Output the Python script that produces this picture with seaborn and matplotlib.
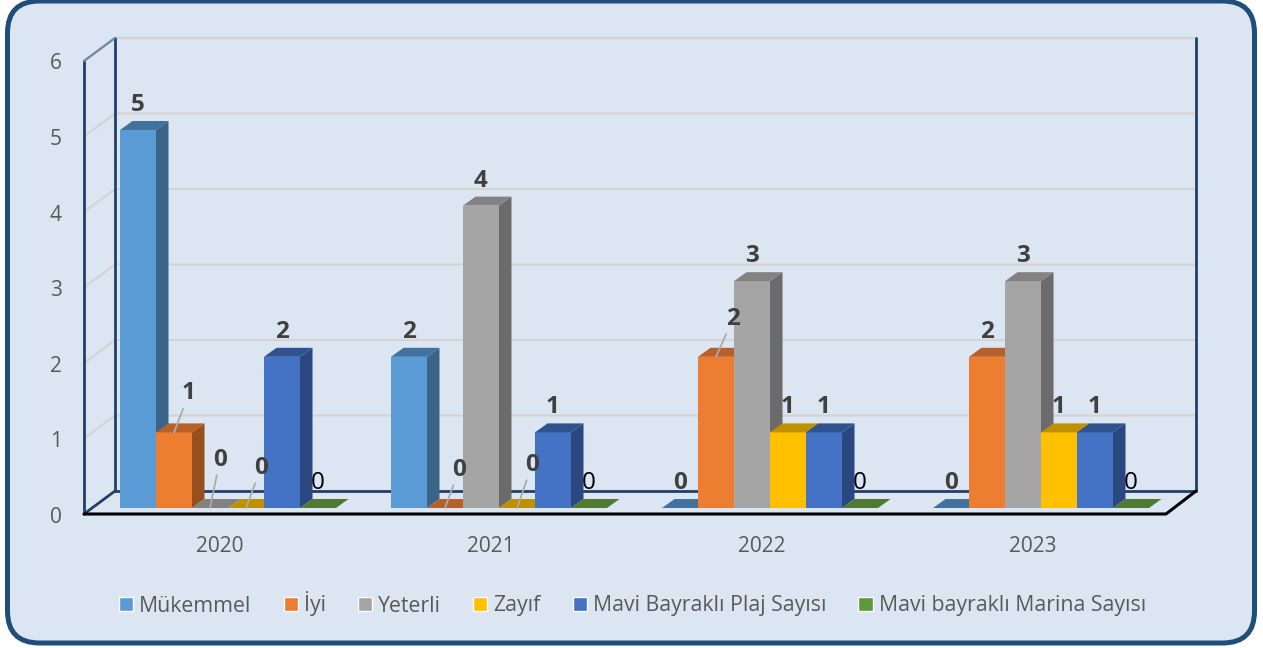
import matplotlib
matplotlib.use("Agg")
import matplotlib.pyplot as plt
import pandas as pd
import seaborn as sns
from matplotlib.patches import FancyBboxPatch, Polygon
from matplotlib.lines import Line2D
from matplotlib.transforms import Affine2D, ScaledTranslation

# ---- data ----
years = ["2020", "2021", "2022", "2023"]
series = ["Mükemmel", "İyi", "Yeterli", "Zayıf", "Mavi Bayraklı Plaj Sayısı", "Mavi bayraklı Marina Sayısı"]
mukemmel = [5, 2, 0, 0]
iyi = [1, 0, 2, 2]
yeterli = [0, 4, 3, 3]
zayif = [0, 0, 1, 1]
plaj = [2, 1, 1, 1]
marina = [0, 0, 0, 0]
values = [mukemmel, iyi, yeterli, zayif, plaj, marina]
y_ticks = [0, 1, 2, 3, 4, 5, 6]

# ---- styles ----
front_cols = ["#5B9BD5", "#ED7D31", "#A5A5A5", "#FFC000", "#4472C4", "#5B9A3A"]
side_cols = ["#3A6488", "#95501E", "#6B6B6B", "#A67C00", "#2A4780", "#3E6B28"]
top_cols = ["#41719C", "#B8602A", "#828282", "#BF9000", "#30538F", "#4E7A31"]
BG, BORDER, NAVY, GRID, TXT = "#DCE6F2", "#1F4E79", "#223F68", "#D4D4D4", "#595959"
W, H = 1263, 648
FS = 15

# pixel geometry of the picture
X0, CAT = 92.5, 271.0        # left of axes, px per category
Y0, UNIT = 508.0, 75.6       # baseline of bars, px per unit
DEPTH_X, DEPTH_Y = 12.5, 9.0 # bar depth
FL, FR, FB, FUNIT = 84.0, 1166.0, 514.0, 75.5  # front plane of the box
BL, BR, BB = 115.0, 1196.0, 491.0              # back wall of the box

sns.set_theme(style="white")
plt.rcParams["font.family"] = ["Open Sans", "DejaVu Sans"]

df = pd.DataFrame(
    [(y, s, v[i]) for s, v in zip(series, values) for i, y in enumerate(years)],
    columns=["year", "series", "value"],
)

fig = plt.figure(figsize=(W / 100, H / 100), dpi=100, facecolor="white")
PX = Affine2D().scale(1 / W, -1 / H).translate(0, 1) + fig.transFigure

fig.add_artist(FancyBboxPatch((7.5, 1), 1247, 642, boxstyle="round,pad=0,rounding_size=32",
                              transform=PX, fc=BG, ec=BORDER, lw=3.6, zorder=-5))

ax = fig.add_axes([X0 / W, 1 - Y0 / H, 4 * CAT / W, 6 * UNIT / H])
ax.set_zorder(2)
ax.patch.set_alpha(0)
sns.barplot(data=df, x="year", y="value", hue="series", hue_order=series, order=years,
            palette=dict(zip(series, front_cols)), saturation=1, width=216 / 271, gap=0,
            errorbar=None, ax=ax, zorder=3)
ax.set_xlim(-0.5, 3.5)
ax.set_ylim(0, 6)
ax.set_xlabel("")
ax.set_ylabel("")
sns.despine(ax=ax, left=True, bottom=True)
ax.set_yticks(y_ticks)

# box: gridlines and frame
def line(xs, ys, color, lw, z=1):
    fig.add_artist(Line2D(xs, ys, transform=PX, color=color, lw=lw, zorder=z, solid_capstyle="round"))

for v in y_ticks[1:]:
    line([FL, BL, BR], [FB - FUNIT * v, BB - FUNIT * v, BB - FUNIT * v], GRID, 1.6, z=0)
top = FUNIT * y_ticks[-1]
line([FL, FL], [FB, FB - top], NAVY, 2.0)
line([BL, BL], [BB, BB - top], NAVY, 2.0)
line([BR, BR], [BB, BB - top], NAVY, 2.0)
line([FL, BL], [FB - top, BB - top], "#6F86A8", 1.6)
line([FL, BL], [FB, BB], NAVY, 2.0)
line([BL, BR], [BB, BB], NAVY, 2.0)
line([FL, FR, BR], [FB, FB, BB], "black", 2.2)

# depth faces of the bars
dx, dy = DEPTH_X / CAT, DEPTH_Y / UNIT
for i, cont in enumerate(ax.containers):
    for bar in cont:
        x, w, h = bar.get_x(), bar.get_width(), bar.get_height()
        bar.set_zorder(3 + i * 0.1)
        bar.set_linewidth(0)
        ax.add_patch(Polygon([(x + w, 0), (x + w + dx, dy), (x + w + dx, h + dy), (x + w, h)],
                             fc=side_cols[i], ec="none", zorder=3.05 + i * 0.1, clip_on=False))
        ax.add_patch(Polygon([(x, h), (x + dx, h + dy), (x + w + dx, h + dy), (x + w, h)],
                             fc=top_cols[i], ec="none", zorder=3.06 + i * 0.1, clip_on=False))

# data labels
label_offsets = {(1, 0): (15, 39), (2, 0): (10, 48), (3, 0): (15, 40),
                 (1, 1): (14, 38), (3, 1): (15, 43), (1, 2): (17, 38)}
for i, cont in enumerate(ax.containers):
    for j, bar in enumerate(cont):
        cx, h = bar.get_x() + bar.get_width() / 2, bar.get_height()
        last = i == len(series) - 1
        off = label_offsets.get((i, j), (0, 25))
        arrow = None
        if (i, j) in label_offsets:
            arrow = dict(arrowstyle="-", color="#ABABAB", lw=1.3, shrinkA=0, shrinkB=0, relpos=(0.5, 0.5))
        ax.annotate(f"{values[i][j]}", xy=(cx, h), xytext=off, textcoords="offset pixels",
                    ha="center", va="center", fontsize=17.5,
                    fontweight="normal" if last else "bold",
                    color="black" if last else "#404040",
                    arrowprops=arrow, zorder=6, annotation_clip=False)

# ticks
ax.tick_params(axis="y", length=0, pad=22, labelsize=FS, labelcolor=TXT)
ax.tick_params(axis="x", length=0, pad=20, labelsize=FS, labelcolor=TXT)
for lab in ax.get_yticklabels():
    lab.set_transform(lab.get_transform() + ScaledTranslation(0, -5 / 72, fig.dpi_scale_trans))
for lab in ax.get_xticklabels():
    lab.set_transform(lab.get_transform() + ScaledTranslation(-8 / 100, 0, fig.dpi_scale_trans))

# legend
sns.move_legend(ax, "center", bbox_to_anchor=(632.5, 604), bbox_transform=PX, ncol=6, frameon=False,
                title=None, fontsize=15.3, labelcolor=TXT, handlelength=0.67, handleheight=0.67,
                handletextpad=0.29, columnspacing=1.5, borderpad=0, borderaxespad=0)

fig.savefig("out.png", dpi=100, facecolor="white")
